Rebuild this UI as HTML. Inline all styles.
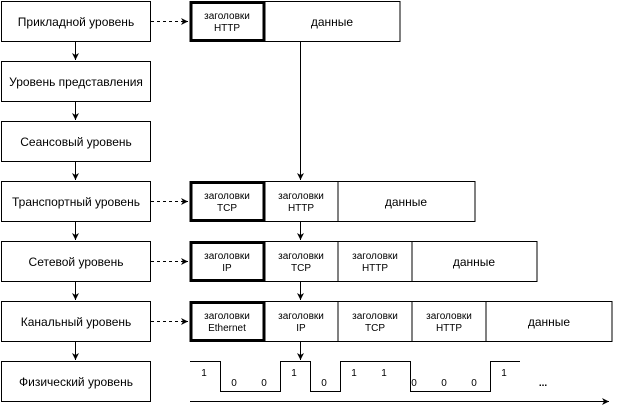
<!DOCTYPE html>
<html><head><meta charset="utf-8"><style>
html,body{margin:0;padding:0;background:#fff;}
svg{display:block;font-family:"Liberation Sans",Helvetica,sans-serif;}
</style></head><body>
<svg width="619" height="410" viewBox="0 0 619 410" xmlns="http://www.w3.org/2000/svg">
<defs>
<marker id="a" markerWidth="8" markerHeight="8" refX="7" refY="4" orient="auto" markerUnits="userSpaceOnUse">
<path d="M0,0.5 L7,4 L0,7.5 L2,4 Z" fill="#000"/></marker>
</defs>
<g fill="#fff" stroke="#000" stroke-width="1">
<rect x="1.5" y="1.5" width="149" height="40"/>
<rect x="1.5" y="61.5" width="149" height="40"/>
<rect x="1.5" y="121.5" width="149" height="40"/>
<rect x="1.5" y="181.5" width="149" height="40"/>
<rect x="1.5" y="241.5" width="149" height="40"/>
<rect x="1.5" y="301.5" width="149" height="40"/>
<rect x="1.5" y="361.5" width="149" height="40"/>
<rect x="265" y="1.5" width="135" height="40"/>
<rect x="265" y="181.5" width="73" height="40"/>
<rect x="338" y="181.5" width="137" height="40"/>
<rect x="265" y="241.5" width="73" height="40"/>
<rect x="338" y="241.5" width="74" height="40"/>
<rect x="412" y="241.5" width="125" height="40"/>
<rect x="265" y="301.5" width="73" height="40"/>
<rect x="338" y="301.5" width="74" height="40"/>
<rect x="412" y="301.5" width="74" height="40"/>
<rect x="486" y="301.5" width="126" height="40"/>
</g>
<g fill="#fff" stroke="#000" stroke-width="3">
<rect x="191" y="2.5" width="73" height="38"/>
<rect x="191" y="182.5" width="73" height="38"/>
<rect x="191" y="242.5" width="73" height="38"/>
<rect x="191" y="302.5" width="73" height="38"/>
</g>
<g stroke="#000" stroke-width="1" fill="none">
<line x1="75.5" y1="41" x2="75.5" y2="60" marker-end="url(#a)"/>
<line x1="75.5" y1="101" x2="75.5" y2="120" marker-end="url(#a)"/>
<line x1="75.5" y1="161" x2="75.5" y2="180" marker-end="url(#a)"/>
<line x1="75.5" y1="221" x2="75.5" y2="240" marker-end="url(#a)"/>
<line x1="75.5" y1="281" x2="75.5" y2="300" marker-end="url(#a)"/>
<line x1="75.5" y1="341" x2="75.5" y2="360" marker-end="url(#a)"/>
<line x1="300.5" y1="41" x2="300.5" y2="180" marker-end="url(#a)"/>
<line x1="300.5" y1="221" x2="300.5" y2="240" marker-end="url(#a)"/>
<line x1="300.5" y1="281" x2="300.5" y2="300" marker-end="url(#a)"/>
<line x1="300.5" y1="341" x2="300.5" y2="360" marker-end="url(#a)"/>
<g stroke-dasharray="3,3">
<line x1="151" y1="21.5" x2="188" y2="21.5" marker-end="url(#a)"/>
<line x1="151" y1="201.5" x2="188" y2="201.5" marker-end="url(#a)"/>
<line x1="151" y1="261.5" x2="188" y2="261.5" marker-end="url(#a)"/>
<line x1="151" y1="321.5" x2="188" y2="321.5" marker-end="url(#a)"/>
</g>
<polyline points="190,361.5 220.5,361.5 220.5,391.5 280.5,391.5 280.5,361.5 310.5,361.5 310.5,391.5 340.5,391.5 340.5,361.5 410.5,361.5 410.5,391.5 490.5,391.5 490.5,361.5 520,361.5"/>
<line x1="190" y1="401.5" x2="609" y2="401.5" marker-end="url(#a)"/>
</g>
<g font-size="12" text-anchor="middle" fill="#000">
<text x="76" y="26">Прикладной уровень</text>
<text x="76" y="86">Уровень представления</text>
<text x="76" y="146">Сеансовый уровень</text>
<text x="76" y="206">Транспортный уровень</text>
<text x="76" y="266">Сетевой уровень</text>
<text x="76" y="326">Канальный уровень</text>
<text x="76" y="386">Физический уровень</text>
<text x="332" y="26">данные</text>
<text x="406" y="206">данные</text>
<text x="474" y="266">данные</text>
<text x="549" y="326">данные</text>
</g>
<g font-size="10" text-anchor="middle" fill="#000">
<text x="227" y="19">заголовки</text><text x="227" y="31">HTTP</text>
<text x="227" y="199">заголовки</text><text x="227" y="211">TCP</text>
<text x="301" y="199">заголовки</text><text x="301" y="211">HTTP</text>
<text x="227" y="259">заголовки</text><text x="227" y="271">IP</text>
<text x="301" y="259">заголовки</text><text x="301" y="271">TCP</text>
<text x="375" y="259">заголовки</text><text x="375" y="271">HTTP</text>
<text x="227" y="319">заголовки</text><text x="227" y="331">Ethernet</text>
<text x="301" y="319">заголовки</text><text x="301" y="331">IP</text>
<text x="375" y="319">заголовки</text><text x="375" y="331">TCP</text>
<text x="449" y="319">заголовки</text><text x="449" y="331">HTTP</text>
<text x="204" y="376">1</text>
<text x="234" y="386">0</text>
<text x="264" y="386">0</text>
<text x="294" y="376">1</text>
<text x="324" y="386">0</text>
<text x="354" y="376">1</text>
<text x="384" y="376">1</text>
<text x="414" y="386">0</text>
<text x="444" y="386">0</text>
<text x="474" y="386">0</text>
<text x="504" y="376">1</text>
<text x="543" y="386" font-weight="bold">...</text>
</g>
</svg>
</body></html>
